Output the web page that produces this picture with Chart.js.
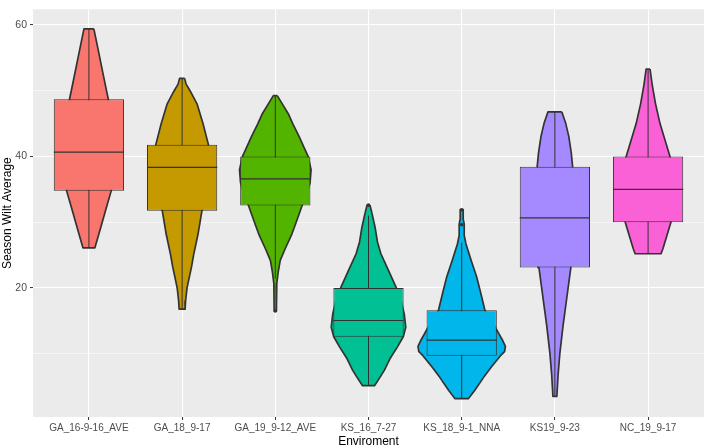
<!DOCTYPE html>
<html><head><meta charset="utf-8">
<script src="https://cdn.jsdelivr.net/npm/chart.js@4/dist/chart.umd.min.js"></script>
<style>html,body{margin:0;padding:0;background:#fff;}canvas{display:block;}</style>
</head><body>
<canvas id="c" width="708" height="448"></canvas>
<script>
// ---- data ----
const categories = ['GA_16-9-16_AVE','GA_18_9-17','GA_19_9-12_AVE','KS_16_7-27','KS_18_9-1_NNA','KS19_9-23','NC_19_9-17'];
const colors = ['#F8766D','#C49A00','#53B400','#00C094','#00B6EB','#A58AFF','#FB61D7'];
const q1 = [34.8, 31.75, 32.55, 12.57, 9.7, 23.1, 30.0];
const medians = [40.67, 38.33, 36.6, 15.05, 12.07, 30.66, 35.0];
const q3 = [48.7, 41.76, 40.0, 20.0, 16.6, 38.44, 40.0];
const whiskerLow = [26.1, 16.77, 21.4, 5.13, 3.15, 3.5, 25.2];
const whiskerHigh = [59.4, 51.87, 49.25, 31.0, 26.9, 46.77, 53.3];
const outlierCat = [3, 4, 5, 5];
const outlierVal = [16.5, 32.6, 29.6, 31.9];
const yTicks = [10, 20, 30, 40, 50, 60];
// violin profiles: [value, half-width in category units]
const violinGA16 = [[59.4,.053],[57,.088],[55,.117],[52,.160],[48.7,.208],[45,.235],[41,.256],[37,.256],[34.8,.240],[32,.183],[29,.123],[26.1,.064]];
const violinGA18 = [[51.87,.027],[51,.043],[50,.085],[48,.160],[45,.224],[41.76,.283],[39,.299],[35,.288],[31.75,.213],[28.2,.171],[25,.123],[23.2,.101],[20,.053],[18,.037],[16.77,.032]];
const violinGA19 = [[49.25,.021],[48,.075],[46.5,.139],[45,.187],[43,.256],[41,.32],[40,.352],[38,.384],[36,.373],[34,.331],[32.55,.288],[30,.224],[28.2,.178],[26,.107],[24.2,.053],[22.5,.032],[20.7,.016],[16.5,.012]];
const violinKS16 = [[32.6,.016],[31,.043],[29.2,.071],[27,.096],[25.2,.133],[22.7,.213],[20,.299],[18,.352],[16,.384],[14,.400],[12.57,.373],[11,.309],[9.35,.235],[7.5,.171],[6.4,.123],[5.13,.064]];
const violinKS18 = [[31.9,.016],[30.5,.016],[29.7,.027],[28,.027],[26.7,.046],[24.2,.101],[21.7,.160],[19.3,.203],[16.6,.249],[14.3,.35],[13,.40],[12,.44],[11.1,.469],[10.3,.46],[9.7,.416],[8,.32],[6.4,.235],[4.4,.139],[3.15,.071]];
const violinKS19 = [[46.77,.075],[45,.117],[43.05,.149],[40.5,.176],[38.44,.190],[35,.203],[30,.197],[26,.181],[23.1,.171],[18,.123],[14.3,.088],[10,.053],[6.9,.035],[3.5,.021]];
const violinNC19 = [[53.3,.021],[51,.043],[48,.080],[45,.128],[42,.192],[40,.235],[37,.288],[34,.309],[31,.277],[30,.245],[28,.203],[26,.160],[25.2,.139]];
const violins = [violinGA16, violinGA18, violinGA19, violinKS16, violinKS18, violinKS19, violinNC19];

// ---- build ----
const FONT = "'Liberation Sans', Arial, sans-serif";
const BOX_FRACTION = 0.754;
function violinPoints(c, prof) {
  const right = prof.map(p => ({x: c + p[1], y: p[0]}));
  const left = prof.slice().reverse().map(p => ({x: c - p[1], y: p[0]}));
  return right.concat(left, [right[0]]);
}
const datasets = [];
violins.forEach((prof, i) => {
  datasets.push({
    type: 'line', data: violinPoints(i + 1, prof),
    backgroundColor: colors[i], borderColor: '#333333', borderWidth: 1.7,
    borderJoinStyle: 'round', fill: 'shape', pointRadius: 0, tension: 0, order: 10
  });
});
const whiskerData = [];
categories.forEach((_, i) => {
  whiskerData.push({x: i + 1, y: whiskerLow[i]}, {x: i + 1, y: whiskerHigh[i]}, {x: i + 1, y: null});
});
datasets.push({type: 'line', data: whiskerData, borderColor: '#333333', borderWidth: 1,
  fill: false, pointRadius: 0, spanGaps: false, order: 5});
datasets.push({type: 'bar', data: categories.map((_, i) => ({x: i + 1, y: [q1[i], q3[i]]})),
  backgroundColor: colors, borderColor: '#333333', borderWidth: 1, borderSkipped: false,
  categoryPercentage: 1, barPercentage: BOX_FRACTION, order: 3});
const medianData = [];
categories.forEach((_, i) => {
  medianData.push({x: i + 1 - BOX_FRACTION / 2, y: medians[i]}, {x: i + 1 + BOX_FRACTION / 2, y: medians[i]}, {x: i + 1, y: null});
});
datasets.push({type: 'line', data: medianData, borderColor: '#333333', borderWidth: 1.2,
  fill: false, pointRadius: 0, spanGaps: false, order: 2});
datasets.push({type: 'scatter', data: outlierCat.map((c, k) => ({x: c, y: outlierVal[k]})),
  backgroundColor: '#333333', borderWidth: 0, pointRadius: 1.8, order: 1});

const panelBg = {
  id: 'panelBg',
  beforeDraw(chart) {
    const {ctx, chartArea: a} = chart;
    ctx.save(); ctx.fillStyle = '#EBEBEB';
    ctx.fillRect(a.left, a.top, a.right - a.left, a.bottom - a.top);
    ctx.restore();
  }
};

new Chart(document.getElementById('c'), {
  type: 'scatter',
  data: {datasets},
  plugins: [panelBg],
  options: {
    responsive: false, animation: false, devicePixelRatio: 1,
    layout: {padding: 0},
    plugins: {legend: {display: false}, tooltip: {enabled: false}},
    scales: {
      x: {
        type: 'linear', min: 0.4, max: 7.6, offset: false,
        afterBuildTicks: s => { s.ticks = categories.map((_, i) => ({value: i + 1})); },
        afterFit: s => { s.height = 31; },
        ticks: {callback: v => categories[v - 1], maxRotation: 0, minRotation: 0, autoSkip: false,
          color: '#4D4D4D', font: {family: FONT, size: 10}, padding: 2},
        grid: {color: '#FFFFFF', lineWidth: 1.1, tickColor: '#333333', tickLength: 3, tickWidth: 1, offset: false},
        border: {display: false},
        title: {display: true, text: 'Enviroment', color: '#000000', font: {family: FONT, size: 12}, padding: {top: 0, bottom: -1}}
      },
      y: {
        type: 'linear', min: 0.37, max: 62.38,
        afterBuildTicks: s => { s.ticks = yTicks.map(v => ({value: v})); },
        afterFit: s => { s.width = 33; },
        ticks: {callback: v => (v % 20 === 0 ? String(v) : ''), color: '#4D4D4D',
          font: {family: FONT, size: 10.5}, padding: 3},
        grid: {color: '#FFFFFF',
          lineWidth: c => (c.tick && c.tick.value % 20 === 0 ? 1.1 : 0.55),
          tickColor: c => (c.tick && c.tick.value % 20 === 0 ? '#333333' : 'rgba(0,0,0,0)'),
          tickLength: 3, tickWidth: 1},
        border: {display: false},
        title: {display: true, text: 'Season Wilt Average', color: '#000000', font: {family: FONT, size: 12}, padding: 0}
      }
    }
  }
});
</script>
</body></html>
